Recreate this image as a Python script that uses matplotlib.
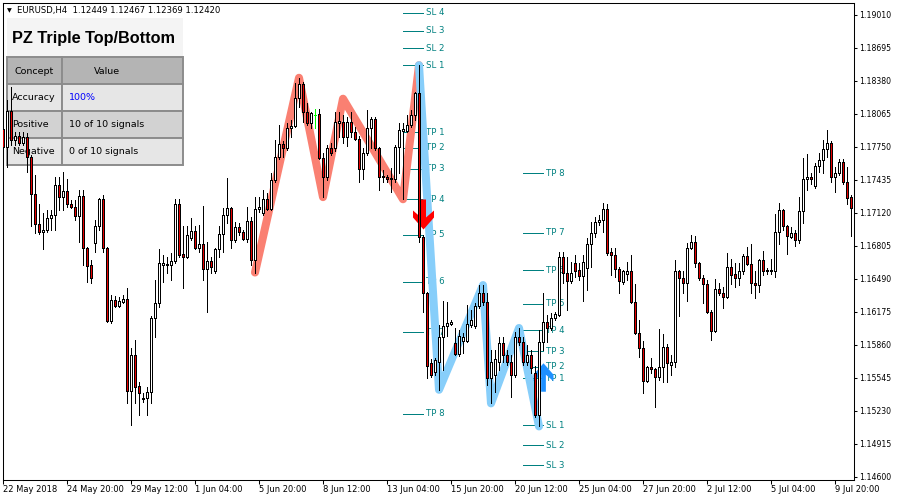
import matplotlib
matplotlib.use("Agg")
import matplotlib.pyplot as plt
from matplotlib.collections import PolyCollection, LineCollection
from matplotlib.patches import Rectangle
from matplotlib.path import Path
from matplotlib.transforms import Affine2D

# ---------------- data ----------------
symbol_line = "EURUSD,H4  1.12449 1.12467 1.12369 1.12420"

open_ = [1.1792, 1.1775, 1.1809, 1.1782, 1.1785, 1.1779, 1.1784, 1.1765, 1.1730, 1.1701,
         1.1694, 1.1696, 1.1707, 1.1710, 1.1739, 1.1727, 1.1733, 1.1720, 1.1718, 1.1709,
         1.1728, 1.1678, 1.1662, 1.1683, 1.1699, 1.1725, 1.1678, 1.1609, 1.1629, 1.1623,
         1.1627, 1.1630, 1.1542, 1.1576, 1.1547, 1.1534, 1.1535, 1.1541, 1.1612, 1.1626,
         1.1662, 1.1662, 1.1662, 1.1666, 1.1720, 1.1673, 1.1670, 1.1688, 1.1695, 1.1678,
         1.1682, 1.1658, 1.1666, 1.1656, 1.1677, 1.1692, 1.1710, 1.1717, 1.1686, 1.1698,
         1.1694, 1.1687, 1.1704, 1.1667, 1.1716, 1.1712, 1.1725, 1.1716, 1.1743, 1.1765,
         1.1778, 1.1774, 1.1793, 1.1795, 1.1822, 1.1835, 1.1808, 1.1798, 1.1805, 1.1806,
         1.1764, 1.1746, 1.1774, 1.1774, 1.1798, 1.1799, 1.1784, 1.1799, 1.1789, 1.1783,
         1.1754, 1.1769, 1.1793, 1.1802, 1.1774, 1.1747, 1.1746, 1.1744, 1.1744, 1.1775,
         1.1790, 1.1790, 1.1796, 1.1805, 1.1826, 1.1689, 1.1635, 1.1569, 1.1560, 1.1570,
         1.1593, 1.1604, 1.1606, 1.1588, 1.1577, 1.1590, 1.1590, 1.1605, 1.1604, 1.1623,
         1.1635, 1.1627, 1.1554, 1.1557, 1.1570, 1.1588, 1.1576, 1.1570, 1.1557, 1.1593,
         1.1589, 1.1570, 1.1576, 1.1559, 1.1519, 1.1589, 1.1608, 1.1602, 1.1612, 1.1614,
         1.1670, 1.1655, 1.1647, 1.1664, 1.1657, 1.1652, 1.1659, 1.1682, 1.1693, 1.1703,
         1.1705, 1.1716, 1.1675, 1.1672, 1.1658, 1.1646, 1.1654, 1.1656, 1.1627, 1.1597,
         1.1583, 1.1551, 1.1565, 1.1563, 1.1555, 1.1565, 1.1584, 1.1567, 1.1570, 1.1656,
         1.1650, 1.1645, 1.1678, 1.1684, 1.1664, 1.1650, 1.1644, 1.1617, 1.1599, 1.1639,
         1.1635, 1.1632, 1.1660, 1.1654, 1.1650, 1.1656, 1.1671, 1.1663, 1.1645, 1.1643,
         1.1667, 1.1656, 1.1656, 1.1656, 1.1694, 1.1715, 1.1699, 1.1689, 1.1693, 1.1686,
         1.1714, 1.1744, 1.1746, 1.1738, 1.1757, 1.1762, 1.1773, 1.1779, 1.1746, 1.1750,
         1.1761, 1.1741, 1.1727]

high = [1.1796, 1.1820, 1.1832, 1.1789, 1.1789, 1.1789, 1.1788, 1.1767, 1.1748, 1.1720,
        1.1712, 1.1715, 1.1715, 1.1746, 1.1746, 1.1751, 1.1744, 1.1724, 1.1724, 1.1734,
        1.1734, 1.1679, 1.1667, 1.1705, 1.1726, 1.1729, 1.1679, 1.1634, 1.1633, 1.1632,
        1.1634, 1.1640, 1.1583, 1.1591, 1.1550, 1.1540, 1.1546, 1.1613, 1.1648, 1.1677,
        1.1672, 1.1670, 1.1674, 1.1725, 1.1725, 1.1699, 1.1699, 1.1707, 1.1699, 1.1700,
        1.1719, 1.1684, 1.1670, 1.1678, 1.1699, 1.1717, 1.1745, 1.1718, 1.1703, 1.1702,
        1.1696, 1.1718, 1.1708, 1.1727, 1.1727, 1.1734, 1.1731, 1.1750, 1.1782, 1.1796,
        1.1781, 1.1798, 1.1801, 1.1836, 1.1841, 1.1837, 1.1817, 1.1808, 1.1811, 1.1811,
        1.1769, 1.1777, 1.1779, 1.1808, 1.1808, 1.1805, 1.1804, 1.1808, 1.1794, 1.1785,
        1.1774, 1.1810, 1.1804, 1.1804, 1.1775, 1.1753, 1.1748, 1.1755, 1.1777, 1.1798,
        1.1798, 1.1805, 1.1810, 1.1827, 1.1853, 1.1691, 1.1636, 1.1572, 1.1573, 1.1605,
        1.1628, 1.1627, 1.1610, 1.1602, 1.1600, 1.1597, 1.1624, 1.1619, 1.1626, 1.1643,
        1.1643, 1.1635, 1.1581, 1.1581, 1.1593, 1.1593, 1.1581, 1.1576, 1.1598, 1.1602,
        1.1593, 1.1586, 1.1581, 1.1566, 1.1600, 1.1635, 1.1614, 1.1616, 1.1617, 1.1675,
        1.1675, 1.1670, 1.1665, 1.1672, 1.1664, 1.1672, 1.1688, 1.1703, 1.1708, 1.1710,
        1.1721, 1.1720, 1.1678, 1.1678, 1.1660, 1.1657, 1.1665, 1.1672, 1.1644, 1.1610,
        1.1590, 1.1566, 1.1573, 1.1564, 1.1601, 1.1596, 1.1587, 1.1576, 1.1667, 1.1657,
        1.1656, 1.1683, 1.1691, 1.1690, 1.1665, 1.1653, 1.1648, 1.1619, 1.1649, 1.1645,
        1.1641, 1.1674, 1.1668, 1.1664, 1.1664, 1.1673, 1.1679, 1.1682, 1.1656, 1.1668,
        1.1676, 1.1659, 1.1668, 1.1711, 1.1721, 1.1716, 1.1700, 1.1698, 1.1696, 1.1727,
        1.1764, 1.1768, 1.1750, 1.1760, 1.1769, 1.1782, 1.1791, 1.1781, 1.1756, 1.1763,
        1.1763, 1.1756, 1.1729]

low = [1.1772, 1.1756, 1.1777, 1.1777, 1.1777, 1.1777, 1.1751, 1.1699, 1.1693, 1.1692,
       1.1677, 1.1694, 1.1696, 1.1696, 1.1715, 1.1715, 1.1718, 1.1717, 1.1705, 1.1684,
       1.1662, 1.1646, 1.1645, 1.1675, 1.1696, 1.1675, 1.1608, 1.1607, 1.1622, 1.1622,
       1.1626, 1.1530, 1.1509, 1.1530, 1.1519, 1.1531, 1.1519, 1.1530, 1.1593, 1.1622,
       1.1646, 1.1655, 1.1648, 1.1664, 1.1670, 1.1640, 1.1669, 1.1686, 1.1677, 1.1675,
       1.1648, 1.1617, 1.1655, 1.1655, 1.1670, 1.1675, 1.1702, 1.1678, 1.1684, 1.1691,
       1.1686, 1.1684, 1.1662, 1.1655, 1.1713, 1.1710, 1.1715, 1.1715, 1.1741, 1.1763,
       1.1765, 1.1772, 1.1784, 1.1794, 1.1813, 1.1799, 1.1796, 1.1793, 1.1793, 1.1763,
       1.1727, 1.1743, 1.1767, 1.1771, 1.1784, 1.1779, 1.1776, 1.1784, 1.1782, 1.1741,
       1.1744, 1.1767, 1.1774, 1.1772, 1.1734, 1.1741, 1.1741, 1.1732, 1.1741, 1.1750,
       1.1725, 1.1789, 1.1794, 1.1801, 1.1684, 1.1617, 1.1554, 1.1555, 1.1557, 1.1543,
       1.1562, 1.1594, 1.1605, 1.1576, 1.1575, 1.1578, 1.1589, 1.1603, 1.1602, 1.1621,
       1.1624, 1.1548, 1.1530, 1.1541, 1.1562, 1.1570, 1.1567, 1.1536, 1.1555, 1.1586,
       1.1567, 1.1567, 1.1559, 1.1517, 1.1508, 1.1581, 1.1589, 1.1600, 1.1610, 1.1613,
       1.1645, 1.1619, 1.1645, 1.1651, 1.1648, 1.1628, 1.1638, 1.1660, 1.1689, 1.1700,
       1.1694, 1.1672, 1.1653, 1.1651, 1.1635, 1.1644, 1.1648, 1.1626, 1.1596, 1.1574,
       1.1540, 1.1550, 1.1559, 1.1527, 1.1552, 1.1550, 1.1550, 1.1557, 1.1565, 1.1613,
       1.1635, 1.1628, 1.1677, 1.1660, 1.1648, 1.1626, 1.1616, 1.1591, 1.1598, 1.1634,
       1.1621, 1.1631, 1.1644, 1.1641, 1.1643, 1.1654, 1.1662, 1.1635, 1.1631, 1.1636,
       1.1653, 1.1654, 1.1654, 1.1651, 1.1682, 1.1696, 1.1673, 1.1688, 1.1680, 1.1683,
       1.1702, 1.1734, 1.1740, 1.1736, 1.1751, 1.1750, 1.1765, 1.1741, 1.1732, 1.1748,
       1.1740, 1.1720, 1.1690]

close = [1.1775, 1.1809, 1.1782, 1.1785, 1.1779, 1.1784, 1.1765, 1.1730, 1.1701, 1.1694,
         1.1696, 1.1707, 1.1710, 1.1739, 1.1727, 1.1733, 1.1720, 1.1718, 1.1709, 1.1728,
         1.1678, 1.1661, 1.1650, 1.1699, 1.1725, 1.1678, 1.1609, 1.1629, 1.1623, 1.1628,
         1.1630, 1.1542, 1.1576, 1.1546, 1.1540, 1.1535, 1.1541, 1.1612, 1.1626, 1.1664,
         1.1664, 1.1663, 1.1666, 1.1720, 1.1672, 1.1670, 1.1691, 1.1695, 1.1678, 1.1682,
         1.1658, 1.1666, 1.1660, 1.1677, 1.1692, 1.1710, 1.1717, 1.1686, 1.1698, 1.1694,
         1.1687, 1.1704, 1.1667, 1.1716, 1.1718, 1.1725, 1.1716, 1.1743, 1.1765, 1.1778,
         1.1774, 1.1793, 1.1795, 1.1822, 1.1835, 1.1808, 1.1798, 1.1807, 1.1805, 1.1764,
         1.1746, 1.1774, 1.1769, 1.1799, 1.1800, 1.1784, 1.1799, 1.1789, 1.1783, 1.1754,
         1.1769, 1.1793, 1.1802, 1.1774, 1.1746, 1.1746, 1.1744, 1.1745, 1.1775, 1.1791,
         1.1792, 1.1796, 1.1805, 1.1826, 1.1689, 1.1635, 1.1566, 1.1557, 1.1571, 1.1593,
         1.1604, 1.1607, 1.1608, 1.1577, 1.1594, 1.1593, 1.1606, 1.1610, 1.1623, 1.1635,
         1.1627, 1.1554, 1.1570, 1.1572, 1.1588, 1.1576, 1.1570, 1.1557, 1.1593, 1.1589,
         1.1570, 1.1576, 1.1564, 1.1519, 1.1589, 1.1608, 1.1602, 1.1612, 1.1615, 1.1670,
         1.1655, 1.1647, 1.1655, 1.1656, 1.1652, 1.1665, 1.1682, 1.1693, 1.1703, 1.1705,
         1.1716, 1.1674, 1.1672, 1.1658, 1.1647, 1.1656, 1.1656, 1.1627, 1.1597, 1.1583,
         1.1551, 1.1565, 1.1563, 1.1555, 1.1565, 1.1584, 1.1569, 1.1570, 1.1656, 1.1650,
         1.1645, 1.1678, 1.1684, 1.1664, 1.1650, 1.1644, 1.1617, 1.1599, 1.1639, 1.1635,
         1.1632, 1.1660, 1.1653, 1.1650, 1.1656, 1.1671, 1.1663, 1.1645, 1.1643, 1.1667,
         1.1656, 1.1657, 1.1657, 1.1694, 1.1715, 1.1699, 1.1690, 1.1693, 1.1686, 1.1714,
         1.1744, 1.1746, 1.1744, 1.1757, 1.1762, 1.1773, 1.1779, 1.1746, 1.1750, 1.1761,
         1.1741, 1.1726, 1.1717]

time_tick_bars = [0, 16, 32, 48, 64, 80, 96, 112, 128, 144, 160, 176, 192, 208]
time_tick_labels = ["22 May 2018", "24 May 20:00", "29 May 12:00", "1 Jun 04:00",
                    "5 Jun 20:00", "8 Jun 12:00", "13 Jun 04:00", "15 Jun 20:00",
                    "20 Jun 12:00", "25 Jun 04:00", "27 Jun 20:00", "2 Jul 12:00",
                    "5 Jul 04:00", "9 Jul 20:00"]
price_ticks = [1.14600, 1.14915, 1.15230, 1.15545, 1.15860, 1.16175, 1.16490, 1.16805,
               1.17120, 1.17435, 1.17750, 1.18065, 1.18380, 1.18695, 1.19010]

# pattern zigzags (bar index, price)
triple_top_bars = [63, 74, 80, 85, 100, 104]
triple_top_prices = [1.1655, 1.1841, 1.1727, 1.1821, 1.1725, 1.1853]
triple_bottom_bars = [104, 109, 120, 122, 129, 134]
triple_bottom_prices = [1.1853, 1.1543, 1.1643, 1.1530, 1.1602, 1.1508]

# signals
sell_signal_bar, sell_signal_price = 104.9, 1.1711
buy_signal_bar, buy_signal_price = 135.1, 1.1555

# stop-loss / take-profit ladders
sell_level_span = (100, 105)
sell_level_names = ["SL 4", "SL 3", "SL 2", "SL 1", "TP 1", "TP 2", "TP 3", "TP 4",
                    "TP 5", "TP 6", "TP 7", "TP 8"]
sell_level_prices = [1.1903, 1.1886, 1.1869, 1.1853, 1.1789, 1.1774, 1.1754, 1.1725,
                     1.1691, 1.1646, 1.1598, 1.1520]
buy_level_span = (130, 135)
buy_level_names = ["TP 8", "TP 7", "TP 6", "TP 5", "TP 4", "TP 3", "TP 2", "TP 1",
                   "SL 1", "SL 2", "SL 3"]
buy_level_prices = [1.1750, 1.1693, 1.1657, 1.1625, 1.1600, 1.1580, 1.1565, 1.1554,
                    1.1509, 1.1490, 1.1471]

panel_title = "PZ Triple Top/Bottom"
panel_header = ["Concept", "Value"]
panel_rows = [("Accuracy", "100%"), ("Positive", "10 of 10 signals"),
              ("Negative", "0 of 10 signals")]

# ---------------- figure ----------------
W, H = 900, 500
fig = plt.figure(figsize=(W / 100, H / 100), dpi=100, facecolor="white")
ax = fig.add_axes([2.5 / W, 20.5 / H, 851 / W, 477 / H])
ax.set_facecolor("white")
ax.set_xlim(-0.125, 212.625)
ax.set_ylim(1.14573, 1.19129)

# pixel transform (origin top-left) for overlay widgets
px = Affine2D().scale(1 / W, -1 / H).translate(0, 1) + fig.transFigure

FONT = "DejaVu Sans"
TEAL = "#008080"
THIN = 0.5  # one device pixel

# ---- candles ----
bodies, face, wicks, wick_cols = [], [], [], []
hw = 0.3
for i, (o, h, l, c) in enumerate(zip(open_, high, low, close)):
    if abs(o - c) < 1e-9:
        wicks.append([(i, l), (i, h)])
        wick_cols.append("#00ff00")
        wicks.append([(i - hw - 0.05, o), (i + hw + 0.05, o)])
        wick_cols.append("#00ff00")
        continue
    wicks.append([(i, l), (i, h)])
    wick_cols.append("black")
    lo, hi = min(o, c), max(o, c)
    bodies.append([(i - hw, lo), (i + hw, lo), (i + hw, hi), (i - hw, hi)])
    face.append("white" if c > o else "#e60000")

ax.add_collection(LineCollection(wicks, colors=wick_cols, linewidths=THIN,
                                 antialiaseds=False, zorder=5))
ax.add_collection(PolyCollection(bodies, facecolors=face, edgecolors="black",
                                 linewidths=THIN, antialiaseds=False, zorder=6))

# ---- zigzags ----
ax.plot(triple_top_bars, triple_top_prices, color="#fa8072", lw=5.8,
        solid_capstyle="round", solid_joinstyle="round", zorder=3)
ax.plot(triple_bottom_bars, triple_bottom_prices, color="#87cefa", lw=5.8,
        solid_capstyle="round", solid_joinstyle="round", zorder=3.1)

# ---- signal arrows ----
down_verts = [(-2.5, 15), (2.5, 15), (2.5, -3), (10.5, 4), (10.5, -3), (0, -15),
              (-10.5, -3), (-10.5, 4), (-2.5, -3), (-2.5, 15)]
down_arrow = Path(down_verts, closed=True)
up_arrow = Path([(x, -y) for x, y in down_verts], closed=True)
ax.plot([sell_signal_bar], [sell_signal_price], marker=down_arrow, markersize=21.6,
        markerfacecolor="#ff0000", markeredgewidth=0, linestyle="none", zorder=4)
ax.plot([buy_signal_bar], [buy_signal_price], marker=up_arrow, markersize=20.5,
        markerfacecolor="#1e90ff", markeredgewidth=0, linestyle="none", zorder=4)

# ---- level ladders ----
for span, names, prices in [(sell_level_span, sell_level_names, sell_level_prices),
                            (buy_level_span, buy_level_names, buy_level_prices)]:
    for name, p in zip(names, prices):
        ax.plot(span, [p, p], color=TEAL, lw=THIN, zorder=2, antialiased=False)
        ax.text(span[1] + 0.7, p, name, color=TEAL, fontsize=6.2, family=FONT,
                ha="left", va="center", zorder=2)

# ---- info panel ----
def cell(x, y, w, h, fc, ec=None, lw=0):
    r = Rectangle((x, y), w, h, transform=px, facecolor=fc,
                  edgecolor=ec if ec else "none", linewidth=lw, zorder=1)
    ax.add_patch(r)

cell(7, 18, 176, 39, "#f4f4f4")
cell(7, 57, 55, 26.5, "#b4b4b4", "#8c8c8c", 1.4)
cell(62, 57, 121, 26.5, "#b4b4b4", "#8c8c8c", 1.4)
row_bg = ["#e6e6e6", "#d2d2d2", "#e6e6e6"]
row_y = [83.5, 110.5, 137.5]
for (lab, val), y0, bg in zip(panel_rows, row_y, row_bg):
    cell(7, y0, 55, 27, bg, "#8c8c8c", 1.4)
    cell(62, y0, 121, 27, bg, "#8c8c8c", 1.4)

ax.text(12, 38, panel_title, transform=px, fontsize=11.7, fontweight="bold",
        family="Liberation Sans", ha="left", va="center", zorder=1.5)
ax.text(34.5, 71, panel_header[0], transform=px, fontsize=6.8, family=FONT,
        ha="center", va="center", zorder=1.5)
ax.text(106.5, 71, panel_header[1], transform=px, fontsize=6.8, family=FONT,
        ha="center", va="center", zorder=1.5)
for (lab, val), y0 in zip(panel_rows, row_y):
    yc = y0 + 14
    ax.text(12, yc, lab, transform=px, fontsize=6.8, family=FONT,
            ha="left", va="center", zorder=1.5)
    ax.text(69, yc, val, transform=px, fontsize=6.8, family=FONT, ha="left",
            va="center", color="#0000ff" if val.endswith("%") else "black", zorder=1.5)

# ---- header line ----
fig.text(9.5 / W, 1 - 11 / H, "\u25bc", fontsize=4.5, family=FONT,
         ha="center", va="center")
fig.text(17 / W, 1 - 11 / H, symbol_line, fontsize=6.1, family=FONT,
         ha="left", va="center")

# ---- axes ----
for s in ax.spines.values():
    s.set_color("black")
    s.set_linewidth(0.75)

ax.yaxis.tick_right()
ax.set_yticks(price_ticks)
ax.set_yticklabels([f"{v:.5f}" for v in price_ticks], family=FONT, fontsize=5.6)
ax.tick_params(axis="y", direction="out", length=2.3, width=0.75, pad=1.8,
               colors="black")

ax.set_xticks(time_tick_bars)
ax.set_xticklabels(time_tick_labels, family=FONT, fontsize=6, ha="left")
ax.tick_params(axis="x", direction="out", length=3, width=0.75, pad=1.2,
               colors="black")

fig.savefig("out.png", dpi=100, facecolor="white")
